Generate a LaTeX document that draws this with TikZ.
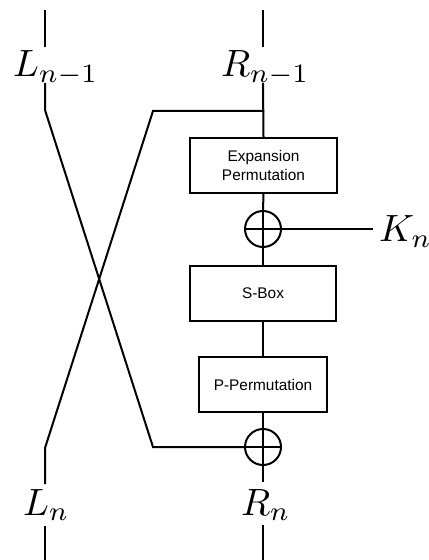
\documentclass[tikz,border=0pt]{standalone}
\usepackage{graphicx}
\usepackage{fontspec}
\newfontfamily\boxfont{Liberation Sans}
\newcommand{\biglbl}[1]{\scalebox{1.9}{$#1$}}
\begin{document}
\begin{tikzpicture}[x=0.5pt,y=-0.5pt,
  line width=1pt, line join=miter,
  blk/.style={draw, inner sep=0pt, minimum height=27.5pt, align=center,
    font=\boxfont\fontsize{7.7}{9.3}\selectfont},
  xorop/.style={draw, circle, inner sep=0pt, minimum size=18pt},
  lbl/.style={anchor=base west, inner sep=0pt}]
\useasboundingbox (0,0) rectangle (428,560);
% blocks
\node[blk, minimum width=73.5pt] (ep) at (263.5,165.5) {Expansion\\Permutation};
\node[xorop] (x1) at (263,229) {};
\node[blk, minimum width=73pt] (sb) at (263,293.5) {S-Box};
\node[blk, minimum width=64pt] (pp) at (263,384.5) {P-Permutation};
\node[xorop] (x2) at (263,447) {};
% labels
\node[lbl] (lt) at (12,77) {\biglbl{L_{n-1}}};
\node[lbl] (rt) at (220,77) {\biglbl{R_{n-1}}};
\node[lbl] (kn) at (378,242) {\biglbl{K_n}};
\node[lbl] (lb) at (22,515) {\biglbl{L_n}};
\node[lbl] (rb) at (240,515) {\biglbl{R_n}};
% coordinates
\coordinate (lt0) at (45,10);   \coordinate (lt1) at (45,47);
\coordinate (lt2) at (45,83);   \coordinate (lt3) at (45,110);
\coordinate (lcr) at (153,447);
\coordinate (rt0) at (263,10);  \coordinate (rt1) at (263,47);
\coordinate (rt2) at (263,83);  \coordinate (br) at (263,111);
\coordinate (brl) at (153,111);
\coordinate (lb0) at (45,448);  \coordinate (lb1) at (45,484);
\coordinate (lb2) at (45,526);  \coordinate (lb3) at (45,560);
\coordinate (rb1) at (263,482);
\coordinate (rb2) at (263,525); \coordinate (rb3) at (263,560);
\coordinate (kend) at (373,229);
% left top
\draw (lt0) -- (lt1);
\draw (lt2) -- (lt3) -- (lcr) -- (x2.west);
% right top
\draw (rt0) -- (rt1);
\draw (rt2) -- (ep.north);
\draw (br) -- (brl) -- (lb0) -- (lb1);
\draw (lb2) -- (lb3);
% right chain
\draw (ep.south) -- (x1.north);
\draw (x1.north) -- (x1.south);
\draw (x1.west) -- (kend);
\draw (x1.south) -- (sb.north);
\draw (sb.south) -- (pp.north);
\draw (pp.south) -- (x2.north);
\draw (x2.north) -- (x2.south);
\draw (x2.west) -- (x2.east);
\draw (x2.south) -- (rb1);
\draw (rb2) -- (rb3);
\end{tikzpicture}
\end{document}
